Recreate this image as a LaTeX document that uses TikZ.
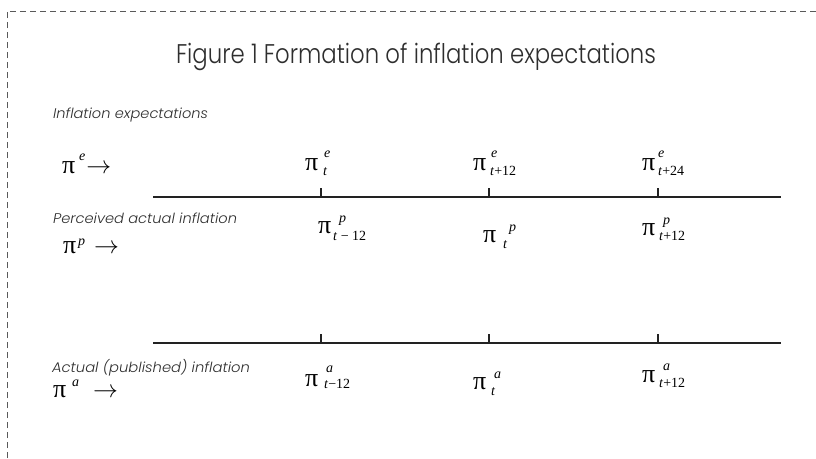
\documentclass[tikz,border=0pt]{standalone}
\usepackage{fontspec}
\usepackage{graphicx}
\setsansfont{Poppins}
\IfFontExistsTF{Poppins Light}{\newfontfamily\ttlfont{Poppins Light}}{\newfontfamily\ttlfont{Poppins}}
\IfFontExistsTF{Poppins Light Italic}{\newfontfamily\lblfont{Poppins Light Italic}}{\newfontfamily\lblfont{Poppins}[UprightFont=*-Italic]}
\newfontfamily\mfont{Liberation Serif}
\newcommand\bigpi{{\fontsize{26}{26}\selectfont π}}
\newcommand\scr[1]{{\fontsize{14}{14}\selectfont #1}}
\newcommand\arr{{\fontsize{25}{25}\selectfont$\rightarrow$}}
% #1 gap, #2 sup shift, #3 sup raise, #4 sub lower, #5 sup, #6 sub
\newcommand\pilab[6]{\bigpi\hspace{#1pt}\rlap{\hspace{#2pt}\raisebox{#3pt}{\scr{\itshape #5}}}\raisebox{-#4pt}{\scr{#6}}}
\newcommand\fitw[2]{\resizebox{#1pt}{\height}{#2}}
\definecolor{txt}{HTML}{2E2E2E}
\definecolor{ink}{HTML}{222222}
\begin{document}
\begin{tikzpicture}[x=1pt,y=-1pt,
  frame/.style={draw=black!65,line width=0.9pt,dash pattern=on 6pt off 4pt},
  axis/.style={draw=ink,line width=1.5pt},
  tick/.style={draw=ink,line width=1.5pt},
  lbl/.style={anchor=base west,inner sep=0pt,outer sep=0pt,text=txt,font=\lblfont\fontsize{14}{14}\selectfont},
  ttl/.style={anchor=base west,inner sep=0pt,outer sep=0pt,text=txt,font=\ttlfont\fontsize{27}{27}\selectfont},
  mth/.style={anchor=base west,inner sep=0pt,outer sep=0pt,text=black,font=\mfont}]
\useasboundingbox (0,0) rectangle (816,458);
% frame
\coordinate (fc) at (7,11);
\coordinate (fr) at (816,11);
\coordinate (fb) at (7,458);
\draw[frame] (fb) -- (fc) -- (fr);
% title
\node[ttl] (title) at (176,63) {\fitw{480}{Figure 1 Formation of inflation expectations}};
% row labels
\node[lbl] (lexp) at (53,118) {\fitw{155}{Inflation expectations}};
\node[lbl] (lper) at (53,223) {\fitw{184}{Perceived actual inflation}};
\node[lbl] (lact) at (52,372) {\fitw{198}{Actual (published) inflation}};
% left symbols
\node[mth] (se) at (62,173) {\bigpi\hspace{4pt}\raisebox{13pt}{\scr{\itshape e}}\hspace{1pt}\arr};
\node[mth] (sp) at (63,253) {\bigpi\hspace{2pt}\raisebox{8pt}{\scr{\itshape p}}\hspace{9pt}\arr};
\node[mth] (sa) at (53,397) {\bigpi\hspace{6pt}\raisebox{11pt}{\scr{\itshape a}}\hspace{14pt}\arr};
% axes
\coordinate (u0) at (153,197); \coordinate (u1) at (781,197);
\coordinate (d0) at (153,343); \coordinate (d1) at (781,343);
\draw[axis] (u0) -- (u1);
\draw[axis] (d0) -- (d1);
\foreach \x/\n in {321/a,489/b,658/c}{
  \coordinate (ut\n) at (\x,197); \coordinate (uT\n) at (\x,188);
  \coordinate (dt\n) at (\x,343); \coordinate (dT\n) at (\x,334);
  \draw[tick] (ut\n) -- (uT\n);
  \draw[tick] (dt\n) -- (dT\n);
}
% expectations
\node[mth] (e1) at (305,170) {\pilab{5}{1}{13}{5}{e}{\textit{t}}};
\node[mth] (e2) at (473,170) {\pilab{4}{1}{13}{5}{e}{\textit{t}+12}};
\node[mth] (e3) at (642,170) {\pilab{3}{0}{13}{5}{e}{\textit{t}+24}};
% perceived
\node[mth] (p1) at (318,233) {\pilab{2}{6}{11}{7}{p}{\textit{t} − 12}};
\node[mth] (p2) at (483,242) {\pilab{7}{6}{11}{6}{p}{\textit{t}}};
\node[mth] (p3) at (642,235) {\pilab{4}{4}{11}{5}{p}{\textit{t}+12}};
% actual
\node[mth] (a1) at (305,386) {\pilab{6}{2}{14}{2}{a}{\textit{t}−12}};
\node[mth] (a2) at (473,389) {\pilab{5}{3}{11}{6}{a}{\textit{t}}};
\node[mth] (a3) at (642,382) {\pilab{4}{4}{12}{5}{a}{\textit{t}+12}};
\end{tikzpicture}
\end{document}
